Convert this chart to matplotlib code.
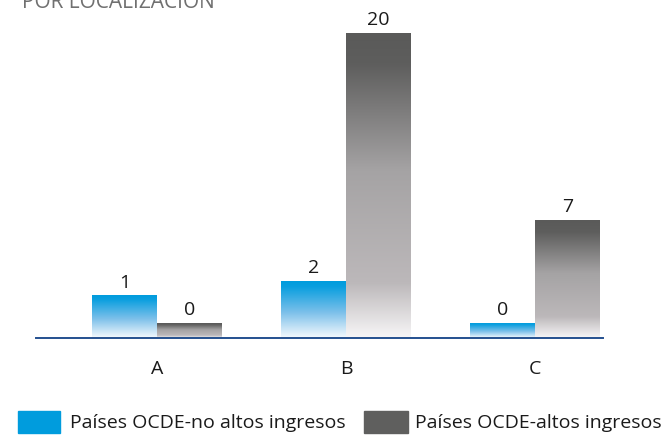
import numpy as np
import matplotlib
matplotlib.use("Agg")
import matplotlib.pyplot as plt
from matplotlib.colors import LinearSegmentedColormap
from matplotlib.patches import Rectangle

plt.rcParams['font.family'] = ['Open Sans', 'DejaVu Sans']

categories = ["A", "B", "C"]
series_names = ["Países OCDE-no altos ingresos", "Países OCDE-altos ingresos"]
values_no_altos = [1, 2, 0]
values_altos = [0, 20, 7]
# visual bar heights as drawn in the reference (same units as values)
heights_no_altos = [2.9, 3.9, 1.0]
heights_altos = [1.0, 21.0, 8.1]
title = "POR LOCALIZACIÓN"

blue_cmap = LinearSegmentedColormap.from_list(
    "blue", [(0.0, "#f6fafd"), (0.45, "#7cc0ea"), (0.9, "#0a9fdf"), (1.0, "#009cdd")])
gray_cmap = LinearSegmentedColormap.from_list(
    "gray", [(0.0, "#f7f6f7"), (0.18, "#bcb8ba"), (0.55, "#a5a3a4"), (0.9, "#5e5e5d"), (1.0, "#5a5a59")])

W, H = 663, 436
fig = plt.figure(figsize=(W / 100, H / 100), dpi=100)
ax_left, ax_right = 36, 603
ax_bottom_px, ax_top_px = 338, 20
ax = fig.add_axes([ax_left / W, 1 - ax_bottom_px / H,
                   (ax_right - ax_left) / W, (ax_bottom_px - ax_top_px) / H])
px_per_unit = 14.5
group_px = 189
bw = 65 / group_px

x = np.arange(len(categories))
grad = np.linspace(0, 1, 256).reshape(-1, 1)

def grad_bars(xs, hs, vals, cmap):
    bars = ax.bar(xs, hs, width=bw, align='edge', color='none', edgecolor='none')
    for b, h, v in zip(bars, hs, vals):
        x0 = b.get_x()
        ax.imshow(grad, cmap=cmap, origin='lower', aspect='auto',
                  extent=[x0, x0 + bw, 0, h], interpolation='bicubic', zorder=2)
        ax.text(x0 + bw / 2, h + 0.3, str(v), ha='center', va='bottom',
                fontsize=14, color='#1a1a1a')

grad_bars(x - bw, heights_no_altos, values_no_altos, blue_cmap)
grad_bars(x, heights_altos, values_altos, gray_cmap)
ax.set_xlim((ax_left - 157) / group_px, (ax_right - 157) / group_px)
ax.set_ylim(0, (ax_bottom_px - ax_top_px) / px_per_unit)

for s in ['top', 'right', 'left']:
    ax.spines[s].set_visible(False)
ax.spines['bottom'].set_color('#24508f')
ax.spines['bottom'].set_linewidth(1.4)
ax.spines['bottom'].set_zorder(3)
ax.set_yticks([])
ax.set_xticks(x)
ax.set_xticklabels(categories, fontsize=14, color='#1a1a1a')
ax.tick_params(axis='x', length=0, pad=16)

fig.text(22 / W, 1 - 8 / H, title, fontsize=15, color='#707070', va='baseline', ha='left')

# legend
legend_items = [(18, 60, 70, "#009cdd"), (364, 408, 415, "#5f5f5e")]
for (bx0, bx1, tx, col), name in zip(legend_items, series_names):
    fig.patches.append(Rectangle((bx0 / W, 1 - 433 / H), (bx1 - bx0) / W, 22 / H,
                                 transform=fig.transFigure, color=col))
    fig.text(tx / W, 1 - 423 / H, name, fontsize=14, color='#1a1a1a', va='center', ha='left')

fig.savefig("out.png", dpi=100)
